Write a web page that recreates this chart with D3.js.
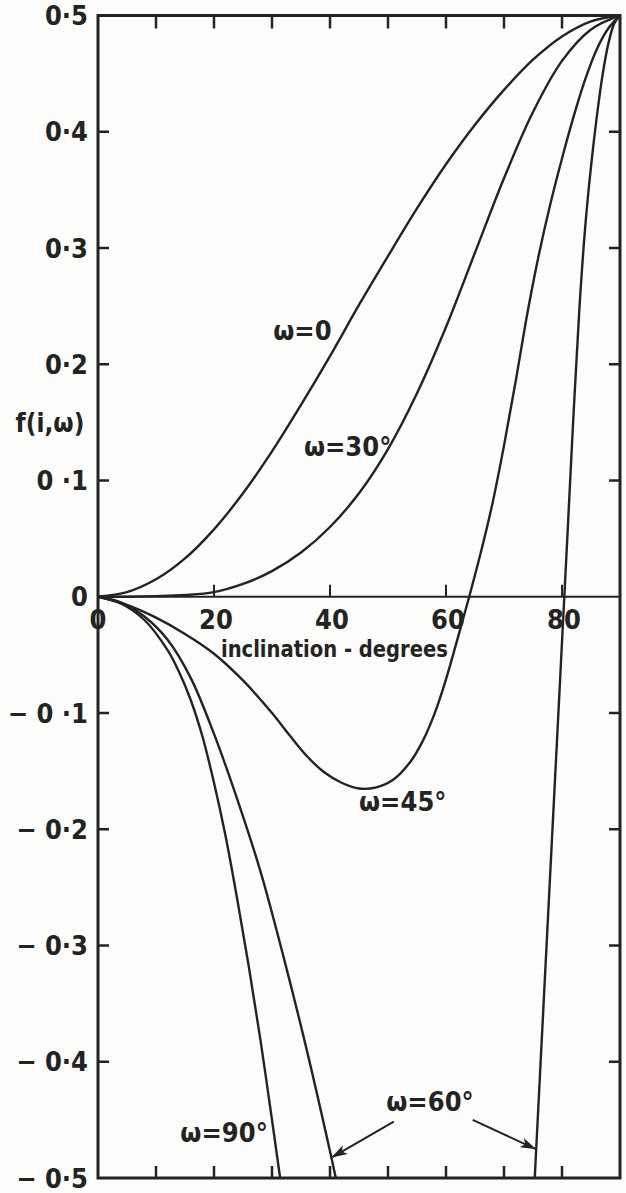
<!DOCTYPE html>
<html>
<head>
<meta charset="utf-8">
<script src="https://cdn.jsdelivr.net/npm/d3@7"></script>
<style>
  html, body { margin: 0; padding: 0; background: #fdfdfc; }
  svg { display: block; }
</style>
</head>
<body>
<div id="chart"></div>
<script>
/* ===== values ===== */

// inclination (degrees) tick values
const xLabelTicks = [0, 20, 40, 60, 80];
const xFrameTicks = [10, 20, 30, 40, 50, 60, 70, 80];
const xZeroTicks = [20, 40, 60, 80];

// f(i, w) tick values and their printed labels
const yTicks = [0.5, 0.4, 0.3, 0.2, 0.1, 0, -0.1, -0.2, -0.3, -0.4, -0.5];
const yTickLabels = ['0·5', '0·4', '0·3', '0·2', '0 ·1', '0', '− 0 ·1', '− 0·2', '− 0·3', '− 0·4', '− 0·5'];

// curves: [inclination, f]
const omega0 = [[0, 0], [5, 0.004], [10, 0.015], [15, 0.033], [20, 0.058], [25, 0.089], [30, 0.125],
  [35, 0.165], [40, 0.207], [45, 0.251], [50, 0.293], [55, 0.334], [60, 0.372], [65, 0.406],
  [70, 0.436], [75, 0.462], [80, 0.482], [85, 0.495], [90, 0.5]];

const omega30 = [[0, 0], [5, 0], [10, 0.0005], [15, 0.0015], [20, 0.004], [25, 0.011], [30, 0.022],
  [35, 0.038], [40, 0.06], [45, 0.089], [50, 0.127], [55, 0.175], [60, 0.232], [65, 0.296],
  [70, 0.36], [75, 0.417], [80, 0.461], [85, 0.488], [90, 0.5]];

const omega45 = [[0, 0], [5, -0.007], [10, -0.018], [15, -0.032], [20, -0.049], [25, -0.072], [30, -0.1],
  [33, -0.119], [36, -0.137], [39, -0.151], [42, -0.16], [45, -0.165], [48, -0.164], [51, -0.157],
  [54, -0.141], [56, -0.124], [58, -0.101], [60, -0.071], [62, -0.036], [64, 0], [66, 0.038],
  [68, 0.08], [70, 0.13], [72, 0.185], [74, 0.243], [76, 0.294], [78, 0.338], [80, 0.377],
  [82, 0.413], [84, 0.445], [86, 0.471], [88, 0.489], [90, 0.5]];

// w = 60 runs off the bottom of the frame, so it comes in two pieces
const omega60Left = [[0, 0], [4, -0.005], [8, -0.017], [12, -0.037], [16, -0.07], [20, -0.118],
  [24, -0.174], [28, -0.236], [32, -0.31], [36, -0.39], [40, -0.477], [41, -0.5]];

const omega60Right = [[75.3, -0.5], [77, -0.333], [79, -0.137], [81, 0.059], [82, 0.158], [83, 0.248],
  [84, 0.318], [85, 0.37], [86, 0.413], [87, 0.449], [88, 0.476], [89, 0.493], [90, 0.5]];

const omega90 = [[0, 0], [4, -0.006], [8, -0.02], [12, -0.046], [14, -0.065], [16, -0.089], [18, -0.12],
  [20, -0.16], [22, -0.206], [24, -0.26], [26, -0.318], [28, -0.381], [30, -0.45], [31.4, -0.5]];

const curves = [omega0, omega30, omega45, omega60Left, omega60Right, omega90];

/* ===== chart ===== */

const INK = '#232323';
const FONT = '"DejaVu Sans Condensed", "DejaVu Sans", sans-serif';

const fullWidth = 626;
const fullHeight = 1193;
const margin = { top: 15.5, right: 6, bottom: 15, left: 98 };

const svg = d3.select('#chart')
  .append('svg')
  .attr('width', fullWidth)
  .attr('height', fullHeight);

const x = d3.scaleLinear()
  .domain([0, 90])
  .range([margin.left, fullWidth - margin.right]);

const y = d3.scaleLinear()
  .domain([-0.5, 0.5])
  .range([fullHeight - margin.bottom, margin.top]);

const defs = svg.append('defs');

defs.append('clipPath')
  .attr('id', 'plot-clip')
  .append('rect')
  .attr('x', x(0))
  .attr('y', y(0.5))
  .attr('width', x(90) - x(0))
  .attr('height', y(-0.5) - y(0.5));

defs.append('marker')
  .attr('id', 'arrow')
  .attr('viewBox', '0 0 16 10')
  .attr('refX', 15)
  .attr('refY', 5)
  .attr('markerWidth', 16)
  .attr('markerHeight', 10)
  .attr('markerUnits', 'userSpaceOnUse')
  .attr('orient', 'auto')
  .append('path')
  .attr('d', 'M0,0 L16,5 L0,10 L4,5 Z')
  .attr('fill', INK);

// Zero line across the frame
svg.append('line')
  .attr('x1', x(0)).attr('x2', x(90))
  .attr('y1', y(0)).attr('y2', y(0))
  .attr('stroke', INK)
  .attr('stroke-width', 2);

// Ticks on the zero line (upward)
svg.selectAll('.zero-tick')
  .data(xZeroTicks)
  .join('line')
  .attr('class', 'zero-tick')
  .attr('x1', d => x(d)).attr('x2', d => x(d))
  .attr('y1', y(0)).attr('y2', y(0) - 12)
  .attr('stroke', INK)
  .attr('stroke-width', 2);

// Curves
const line = d3.line()
  .x(d => x(d[0]))
  .y(d => y(d[1]))
  .curve(d3.curveCatmullRom.alpha(0.5));

svg.append('g')
  .attr('clip-path', 'url(#plot-clip)')
  .selectAll('path')
  .data(curves)
  .join('path')
  .attr('fill', 'none')
  .attr('stroke', INK)
  .attr('stroke-width', 2.4)
  .attr('stroke-linejoin', 'round')
  .attr('d', line);

// Frame
svg.append('rect')
  .attr('x', x(0))
  .attr('y', y(0.5))
  .attr('width', x(90) - x(0))
  .attr('height', y(-0.5) - y(0.5))
  .attr('fill', 'none')
  .attr('stroke', INK)
  .attr('stroke-width', 3);

// Top and bottom frame ticks (pointing inward)
svg.selectAll('.top-tick')
  .data(xFrameTicks)
  .join('line')
  .attr('class', 'top-tick')
  .attr('x1', d => x(d)).attr('x2', d => x(d))
  .attr('y1', y(0.5)).attr('y2', y(0.5) + 13)
  .attr('stroke', INK)
  .attr('stroke-width', 2.5);

svg.selectAll('.bottom-tick')
  .data(xFrameTicks)
  .join('line')
  .attr('class', 'bottom-tick')
  .attr('x1', d => x(d)).attr('x2', d => x(d))
  .attr('y1', y(-0.5)).attr('y2', y(-0.5) - 12)
  .attr('stroke', INK)
  .attr('stroke-width', 2.5);

// Left and right frame ticks (pointing inward)
const innerY = yTicks.filter(d => d !== 0.5 && d !== -0.5 && d !== 0);

svg.selectAll('.left-tick')
  .data(innerY)
  .join('line')
  .attr('class', 'left-tick')
  .attr('x1', x(0)).attr('x2', x(0) + 11)
  .attr('y1', d => y(d)).attr('y2', d => y(d))
  .attr('stroke', INK)
  .attr('stroke-width', 2.5);

svg.selectAll('.right-tick')
  .data(innerY)
  .join('line')
  .attr('class', 'right-tick')
  .attr('x1', x(90)).attr('x2', x(90) - 11)
  .attr('y1', d => y(d)).attr('y2', d => y(d))
  .attr('stroke', INK)
  .attr('stroke-width', 2.5);

// Y labels
svg.selectAll('.y-label')
  .data(yTicks)
  .join('text')
  .attr('class', 'y-label')
  .attr('x', x(0) - 10)
  .attr('y', d => y(d))
  .attr('dy', '0.36em')
  .attr('text-anchor', 'end')
  .attr('fill', INK)
  .attr('font-family', FONT)
  .attr('font-weight', 'bold')
  .attr('font-size', '27px')
  .text((d, i) => yTickLabels[i]);

// X labels (just under the zero line)
svg.selectAll('.x-label')
  .data(xLabelTicks)
  .join('text')
  .attr('class', 'x-label')
  .attr('x', d => x(d) + (d === 0 ? 0 : 2))
  .attr('y', y(-0.028))
  .attr('text-anchor', 'middle')
  .attr('fill', INK)
  .attr('font-family', FONT)
  .attr('font-weight', 'bold')
  .attr('font-size', '27px')
  .text(d => d);

// Axis titles
svg.append('text')
  .attr('x', x(21.2))
  .attr('y', y(-0.052))
  .attr('fill', INK)
  .attr('font-family', FONT)
  .attr('font-weight', 'bold')
  .attr('font-size', '23px')
  .attr('textLength', 227)
  .attr('lengthAdjust', 'spacingAndGlyphs')
  .text('inclination - degrees');

svg.append('text')
  .attr('x', 50)
  .attr('y', y(0.15))
  .attr('dy', '0.36em')
  .attr('text-anchor', 'middle')
  .attr('fill', INK)
  .attr('font-family', FONT)
  .attr('font-weight', 'bold')
  .attr('font-size', '26px')
  .text('f(i,ω)');

// Curve labels
const curveLabels = [
  { text: 'ω=0', at: [30.2, 0.221] },
  { text: 'ω=30°', at: [35.5, 0.121] },
  { text: 'ω=45°', at: [45, -0.184] },
  { text: 'ω=90°', at: [14.2, -0.469] },
  { text: 'ω=60°', at: [49.7, -0.442] }
];

svg.selectAll('.curve-label')
  .data(curveLabels)
  .join('text')
  .attr('class', 'curve-label')
  .attr('x', d => x(d.at[0]))
  .attr('y', d => y(d.at[1]))
  .attr('fill', INK)
  .attr('font-family', FONT)
  .attr('font-weight', 'bold')
  .attr('font-size', '27px')
  .text(d => d.text);

// Arrows from the w=60 label to both branches
const arrows = [
  [[51.0, -0.4516], [40.4, -0.482]],
  [[64.6, -0.450], [75.4, -0.475]]
];

svg.selectAll('.arrow')
  .data(arrows)
  .join('line')
  .attr('class', 'arrow')
  .attr('x1', d => x(d[0][0])).attr('y1', d => y(d[0][1]))
  .attr('x2', d => x(d[1][0])).attr('y2', d => y(d[1][1]))
  .attr('stroke', INK)
  .attr('stroke-width', 2)
  .attr('marker-end', 'url(#arrow)');
</script>
</body>
</html>
